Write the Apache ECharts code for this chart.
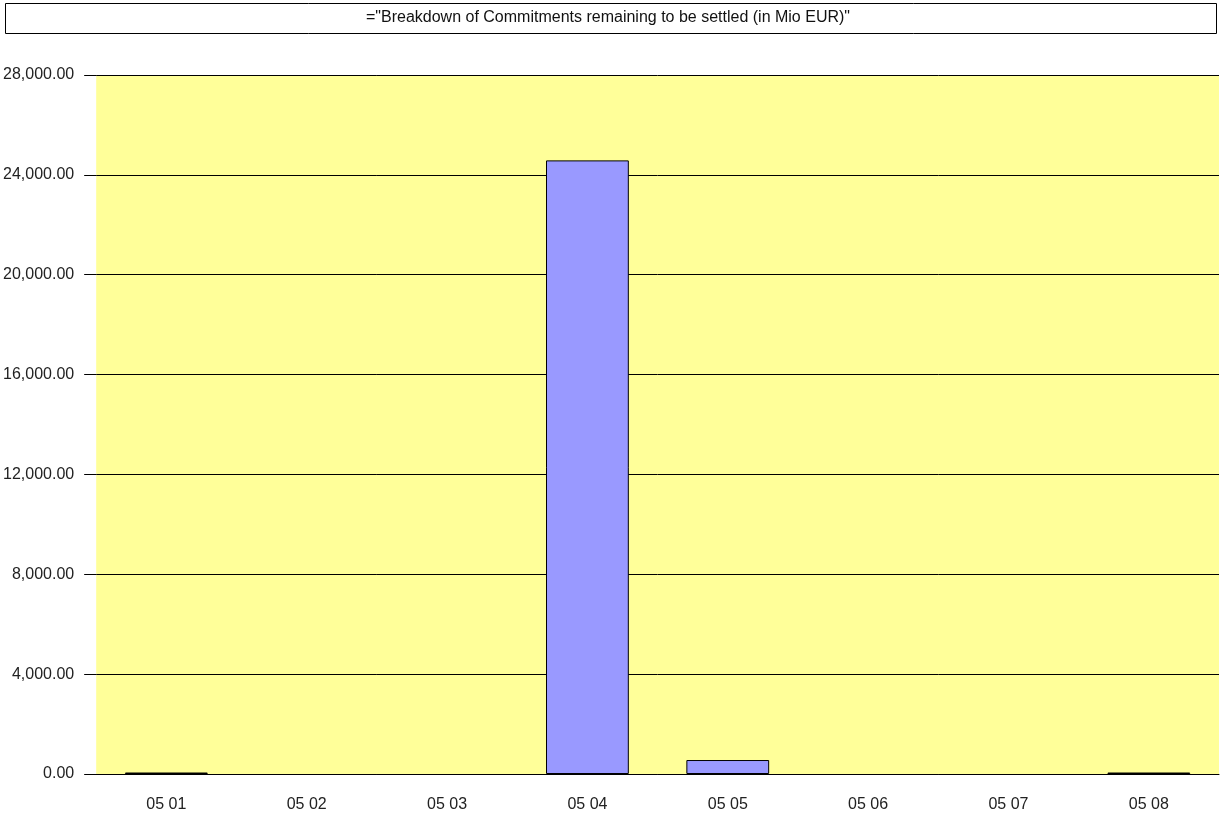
<!DOCTYPE html>
<html>
<head>
<meta charset="utf-8">
<script src="https://cdn.jsdelivr.net/npm/echarts@6/dist/echarts.min.js"></script>
<style>
  html, body { margin: 0; padding: 0; background: #fff; }
  #chart { width: 1220px; height: 821px; }
</style>
</head>
<body>
<div id="chart"></div>
<script>
// categories (budget chapters) and amounts in Mio EUR, null = no bar drawn
const categories = ['05 01', '05 02', '05 03', '05 04', '05 05', '05 06', '05 07', '05 08'];
const commitments = [60, null, null, 24580, 560, null, null, 60];
const yTicks = [0, 4000, 8000, 12000, 16000, 20000, 24000, 28000];
const titleText = '="Breakdown of Commitments remaining to be settled (in Mio EUR)"';

const chart = echarts.init(document.getElementById('chart'));

const option = {
  animation: false,
  graphic: [
    {
      type: 'rect',
      shape: { x: 5.5, y: 3.5, width: 1211, height: 30 },
      style: { fill: '#fff', stroke: '#000', lineWidth: 1 },
    },
    {
      type: 'text',
      x: 608,
      y: 18,
      style: {
        text: titleText,
        fill: '#111',
        font: '16px "Liberation Sans Narrow", "Liberation Sans", Arial, sans-serif',
        textAlign: 'center',
        textVerticalAlign: 'middle',
      },
    },
  ],
  grid: {
    left: 95,
    right: 1,
    top: 75,
    bottom: 47,
    show: true,
    backgroundColor: '#ffff99',
    borderWidth: 0,
  },
  xAxis: {
    type: 'category',
    data: categories,
    axisLine: { show: true, lineStyle: { color: '#000', width: 1 } },
    axisTick: { show: false },
    axisLabel: {
      color: '#222',
      fontSize: 16,
      fontFamily: 'Arial, "Liberation Sans", sans-serif',
      margin: 23,
    },
  },
  yAxis: {
    type: 'value',
    min: yTicks[0],
    max: yTicks[yTicks.length - 1],
    interval: yTicks[1] - yTicks[0],
    axisLine: { show: false },
    axisTick: { show: true, length: 12, lineStyle: { color: '#000' } },
    splitLine: { show: true, lineStyle: { color: '#000', width: 1 } },
    axisLabel: {
      color: '#222',
      fontSize: 16,
      fontFamily: 'Arial, "Liberation Sans", sans-serif',
      margin: 22,
      formatter: (v) => v.toLocaleString('en-US', { minimumFractionDigits: 2, maximumFractionDigits: 2 }),
    },
  },
  series: [
    {
      type: 'bar',
      data: commitments,
      barWidth: '59%',
      itemStyle: { color: '#9999ff', borderColor: '#000', borderWidth: 1 },
    },
  ],
};

chart.setOption(option);
</script>
</body>
</html>
